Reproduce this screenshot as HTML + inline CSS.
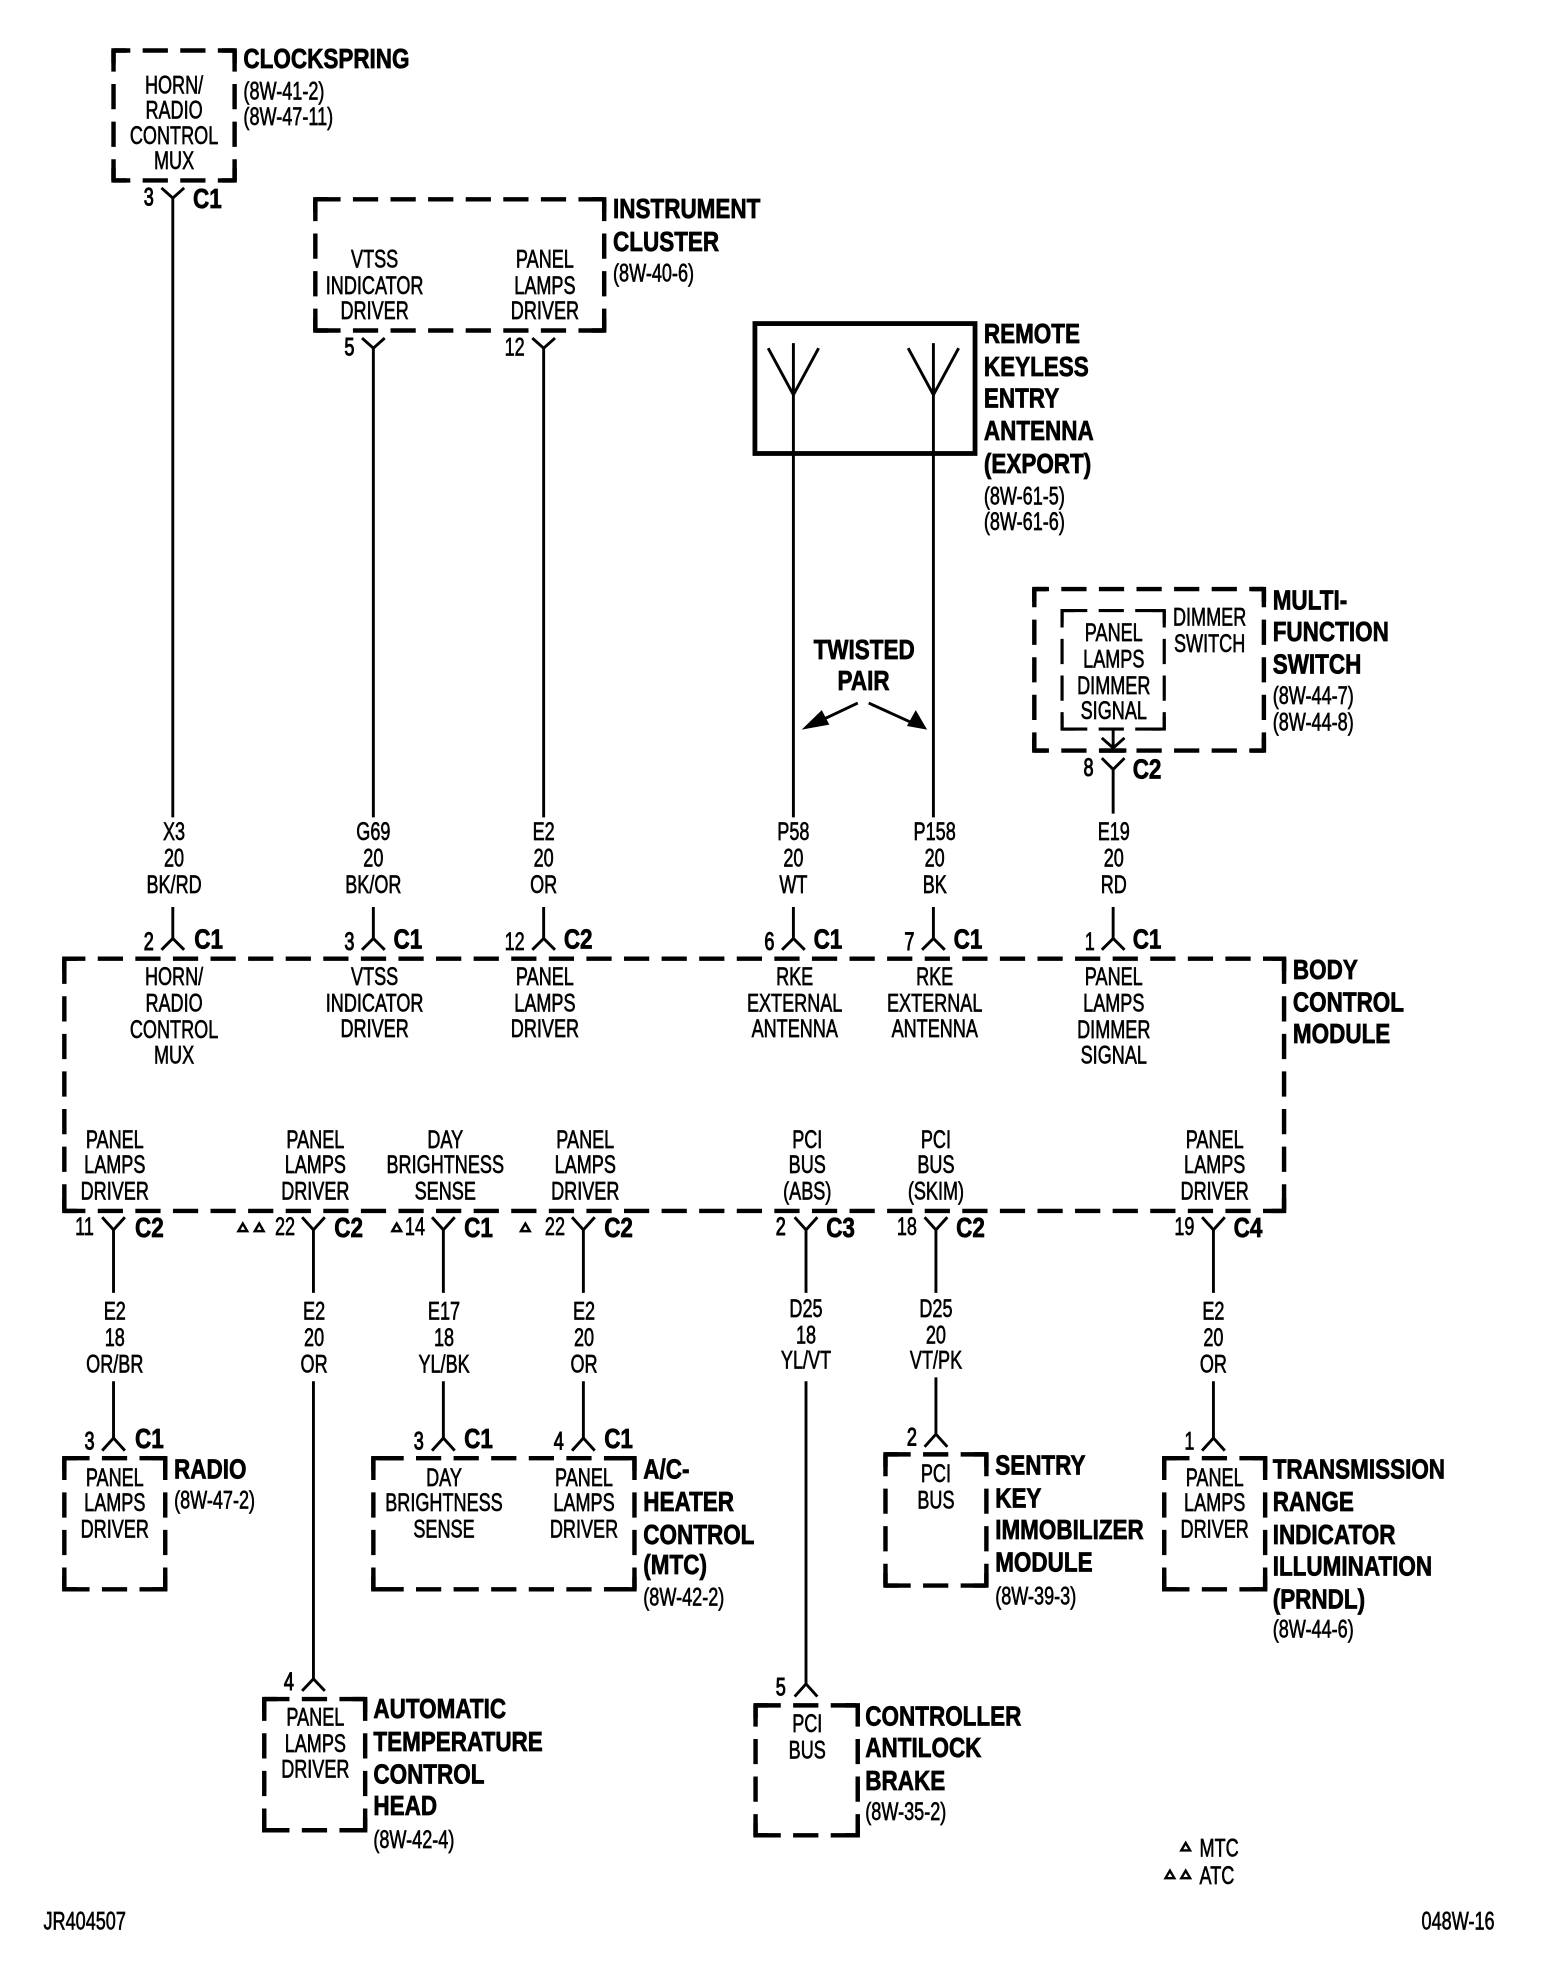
<!DOCTYPE html>
<html><head><meta charset="utf-8"><style>
html,body{margin:0;padding:0;background:#fff}
svg{display:block}
text{font-family:"Liberation Sans",Arial,sans-serif;fill:#000;stroke:#000;transform-box:fill-box}
.c,.l{font-size:19.5px;stroke-width:.5;transform:scaleX(.735)}
.c{text-anchor:middle;transform-origin:50% 50%}
.l{transform-origin:0 0}
.b{stroke-width:.8}
.t{font-size:22px;font-weight:bold;stroke-width:.6;transform:translateY(-1px) scaleX(.81);transform-origin:0 0}
.d{fill:none;stroke:#000;stroke-width:3.5;stroke-dasharray:20 9.8}
.s{fill:none;stroke:#000;stroke-width:3.5}
.w{fill:none;stroke:#000;stroke-width:2.3}
.m{fill:none;stroke:#000;stroke-width:1.9}
</style></head><body>
<svg width="1568" height="1978" viewBox="0 0 1243.1 1568.1" xmlns="http://www.w3.org/2000/svg">
<rect x="0" y="0" width="1244" height="1569" fill="#fff"/>

<!-- dashed boxes -->
<path class="d" style="stroke-dashoffset:6.7" d="M90 40H186M90 143H186"/>
<path class="d" style="stroke-dashoffset:3.2" d="M90 40V143M186 40V143"/>
<path class="s" d="M90 50V40H100M176 40H186V50M186 133V143H176M100 143H90V133"/>

<path class="d" d="M250 158H479M250 262H479"/>
<path class="d" style="stroke-dashoffset:2.7" d="M250 158V262M479 158V262"/>
<path class="s" d="M250 168V158H260M469 158H479V168M479 252V262H469M260 262H250V252"/>

<path class="d" style="stroke-dashoffset:8.4" d="M820 467H1002M820 595H1002"/>
<path class="d" style="stroke-dashoffset:5.6" d="M820 467V595M1002 467V595"/>
<path class="s" d="M820 477V467H830M992 467H1002V477M1002 585V595H992M830 595H820V585"/>

<path class="d" style="stroke-width:2.5;stroke-dasharray:20 9" d="M842 484H923M842 578H923"/>
<path class="d" style="stroke-width:2.5;stroke-dasharray:20 9;stroke-dashoffset:6.5" d="M842 484V578M923 484V578"/>
<path class="s" style="stroke-width:2.5" d="M842 494V484H852M913 484H923V494M923 568V578H913M852 578H842V568"/>

<path class="d" style="stroke-dashoffset:3.3" d="M51 760H1018M51 960H1018"/>
<path class="d" d="M51 760V960M1018 760V960"/>
<path class="s" d="M51 770V760H61M1008 760H1018V770M1018 950V960H1008M61 960H51V950"/>

<path class="d" d="M51 1156H131M51 1260H131"/>
<path class="d" style="stroke-dashoffset:2.7" d="M51 1156V1260M131 1156V1260"/>
<path class="s" d="M51 1166V1156H61M121 1156H131V1166M131 1250V1260H121M61 1260H51V1250"/>

<path class="d" d="M300 1156H499M300 1260H499"/>
<path class="d" style="stroke-dashoffset:2.7" d="M296 1156V1260M503 1156V1260"/>
<path class="s" d="M296 1166V1156H320M479 1156H503V1166M503 1250V1260H479M320 1260H296V1250"/>

<path class="d" d="M702 1153H782M702 1257H782"/>
<path class="d" style="stroke-dashoffset:2.7" d="M702 1153V1257M782 1153V1257"/>
<path class="s" d="M702 1163V1153H712M772 1153H782V1163M782 1247V1257H772M712 1257H702V1247"/>

<path class="d" d="M923 1156H1003M923 1260H1003"/>
<path class="d" style="stroke-dashoffset:2.7" d="M923 1156V1260M1003 1156V1260"/>
<path class="s" d="M923 1166V1156H933M993 1156H1003V1166M1003 1250V1260H993M933 1260H923V1250"/>

<path class="d" d="M209.500 1347H289.500M209.500 1451H289.500"/>
<path class="d" style="stroke-dashoffset:2.7" d="M209.500 1347V1451M289.500 1347V1451"/>
<path class="s" d="M209.500 1357V1347H219.500M279.500 1347H289.500V1357M289.500 1441V1451H279.500M219.500 1451H209.500V1441"/>

<path class="d" d="M599 1352H680M599 1455H680"/>
<path class="d" style="stroke-dashoffset:3.2" d="M599 1352V1455M680 1352V1455"/>
<path class="s" d="M599 1362V1352H609M670 1352H680V1362M680 1445V1455H670M609 1455H599V1445"/>

<!-- RKE box -->
<rect x="598.5" y="256.500" width="174.500" height="103" fill="none" stroke="#000" stroke-width="3.8"/>
<path class="w" d="M629 272V648M740 272V648M609 276L629 313L649 276M720 276L740 313L760 276"/>

<!-- top wires -->
<path class="w" d="M137 157V648M296 276V648M431 276V648M882.500 610V645"/>
<path class="w" d="M128 149L137 157L146 149M287 268L296 276L305 268M422 268L431 276L440 268M873.500 601L882.500 610L891.500 601"/>
<path class="w" d="M882.500 578V593M873.500 585L882.500 593L891.500 585"/>
<path class="s" d="M872 595H893"/>
<!-- BCM top connectors -->
<path class="w" d="M137 719V744M296 719V744M431 719V744M629 719V744M740 719V744M882.500 719V744"/>
<path class="w" d="M128 753L137 744L146 753M287 753L296 744L305 753M422 753L431 744L440 753M620 753L629 744L638 753M731 753L740 744L749 753M873.500 753L882.500 744L891.500 753"/>
<!-- BCM bottom connectors -->
<path class="w" d="M90 975V1025M248.500 975V1025M351.500 975V1025M462.500 975V1025M639 975V1025M742 975V1025M962 975V1025"/>
<path class="w" d="M81 965L90 975L99 965M239.500 965L248.500 975L257.500 965M342.500 965L351.500 975L360.500 965M453.500 965L462.500 975L471.500 965M630 965L639 975L648 965M733 965L742 975L751 965M953 965L962 975L971 965"/>
<!-- lower wires -->
<path class="w" d="M90 1095V1140M248.500 1095V1331M351.500 1095V1140M462.500 1095V1140M639 1095V1335M742 1092V1137M962 1095V1140"/>
<path class="w" d="M81 1150L90 1140L99 1150M239.500 1340.500L248.500 1331L257.500 1340.500M342.500 1150L351.500 1140L360.500 1150M453.500 1150L462.500 1140L471.500 1150M630 1345L639 1335L648 1345M733 1147L742 1137L751 1147M953 1150L962 1140L971 1150"/>

<!-- twisted pair arrows -->
<path class="w" d="M680 557.400L648 572.500M688.700 557.400L722 572.500"/>
<path d="M635.600 578.400L651.500 563L657.500 574.500ZM735 578.400L719 575.500L726 563Z" fill="#000"/>

<!-- triangles -->
<path class="m" d="M189 976L192.500 970L196 976ZM202 976L205.500 970L209 976ZM311 976L314.500 970L318 976ZM413 976L416.500 970L420 976ZM936.500 1467L940 1461L943.500 1467ZM924 1489L927.500 1483L931 1489ZM936.500 1489L940 1483L943.500 1489Z"/>

<!-- titles -->
<text class="t" x="193" y="55">CLOCKSPRING</text>
<text class="l" x="193" y="79">(8W-41-2)</text>
<text class="l" x="193" y="99">(8W-47-11)</text>
<text class="t" x="486" y="174">INSTRUMENT</text>
<text class="t" x="486" y="200">CLUSTER</text>
<text class="l" x="486" y="223">(8W-40-6)</text>
<text class="t" x="780" y="273">REMOTE</text>
<text class="t" x="780" y="299">KEYLESS</text>
<text class="t" x="780" y="324">ENTRY</text>
<text class="t" x="780" y="350">ANTENNA</text>
<text class="t" x="780" y="376">(EXPORT)</text>
<text class="l" x="780" y="400">(8W-61-5)</text>
<text class="l" x="780" y="420">(8W-61-6)</text>
<text class="t" x="1009" y="484">MULTI-</text>
<text class="t" x="1009" y="509">FUNCTION</text>
<text class="t" x="1009" y="535">SWITCH</text>
<text class="l" x="1009" y="558">(8W-44-7)</text>
<text class="l" x="1009" y="579">(8W-44-8)</text>
<text class="t" x="1025" y="777">BODY</text>
<text class="t" x="1025" y="803">CONTROL</text>
<text class="t" x="1025" y="828">MODULE</text>
<text class="t" x="138" y="1173">RADIO</text>
<text class="l" x="138" y="1196">(8W-47-2)</text>
<text class="t" x="510" y="1173">A/C-</text>
<text class="t" x="510" y="1199">HEATER</text>
<text class="t" x="510" y="1225">CONTROL</text>
<text class="t" x="510" y="1249">(MTC)</text>
<text class="l" x="510" y="1273">(8W-42-2)</text>
<text class="t" x="789" y="1170">SENTRY</text>
<text class="t" x="789" y="1196">KEY</text>
<text class="t" x="789" y="1221">IMMOBILIZER</text>
<text class="t" x="789" y="1247">MODULE</text>
<text class="l" x="789" y="1272">(8W-39-3)</text>
<text class="t" x="1009" y="1173">TRANSMISSION</text>
<text class="t" x="1009" y="1199">RANGE</text>
<text class="t" x="1009" y="1225">INDICATOR</text>
<text class="t" x="1009" y="1250">ILLUMINATION</text>
<text class="t" x="1009" y="1276">(PRNDL)</text>
<text class="l" x="1009" y="1298">(8W-44-6)</text>
<text class="t" x="296" y="1363">AUTOMATIC</text>
<text class="t" x="296" y="1389">TEMPERATURE</text>
<text class="t" x="296" y="1415">CONTROL</text>
<text class="t" x="296" y="1440">HEAD</text>
<text class="l" x="296" y="1465">(8W-42-4)</text>
<text class="t" x="686" y="1369">CONTROLLER</text>
<text class="t" x="686" y="1394">ANTILOCK</text>
<text class="t" x="686" y="1420">BRAKE</text>
<text class="l" x="686" y="1443">(8W-35-2)</text>
<text class="t" x="645" y="523.300">TWISTED</text>
<text class="t" x="664" y="548">PAIR</text>
<text class="l" x="951" y="1472">MTC</text>
<text class="l" x="951" y="1493.500">ATC</text>
<text class="l" x="34.500" y="1529.500">JR404507</text>
<text class="l" x="1127" y="1529.500">048W-16</text>

<!-- box labels -->
<text class="c" x="138" y="74">HORN/</text><text class="c" x="138" y="94">RADIO</text><text class="c" x="138" y="114">CONTROL</text><text class="c" x="138" y="134">MUX</text>
<text class="c" x="297" y="212">VTSS</text><text class="c" x="297" y="233">INDICATOR</text><text class="c" x="297" y="253">DRIVER</text>
<text class="c" x="432" y="212">PANEL</text><text class="c" x="432" y="233">LAMPS</text><text class="c" x="432" y="253">DRIVER</text>
<text class="c" x="883" y="508">PANEL</text><text class="c" x="883" y="529">LAMPS</text><text class="c" x="883" y="550">DIMMER</text><text class="c" x="883" y="570">SIGNAL</text>
<text class="c" x="959" y="496">DIMMER</text><text class="c" x="959" y="517">SWITCH</text>

<text class="c" x="138" y="781">HORN/</text><text class="c" x="138" y="802">RADIO</text><text class="c" x="138" y="823">CONTROL</text><text class="c" x="138" y="843">MUX</text>
<text class="c" x="297" y="781">VTSS</text><text class="c" x="297" y="802">INDICATOR</text><text class="c" x="297" y="822">DRIVER</text>
<text class="c" x="432" y="781">PANEL</text><text class="c" x="432" y="802">LAMPS</text><text class="c" x="432" y="822">DRIVER</text>
<text class="c" x="630" y="781">RKE</text><text class="c" x="630" y="802">EXTERNAL</text><text class="c" x="630" y="822">ANTENNA</text>
<text class="c" x="741" y="781">RKE</text><text class="c" x="741" y="802">EXTERNAL</text><text class="c" x="741" y="822">ANTENNA</text>
<text class="c" x="883" y="781">PANEL</text><text class="c" x="883" y="802">LAMPS</text><text class="c" x="883" y="823">DIMMER</text><text class="c" x="883" y="843">SIGNAL</text>

<text class="c" x="91" y="910">PANEL</text><text class="c" x="91" y="930">LAMPS</text><text class="c" x="91" y="951">DRIVER</text>
<text class="c" x="250" y="910">PANEL</text><text class="c" x="250" y="930">LAMPS</text><text class="c" x="250" y="951">DRIVER</text>
<text class="c" x="353" y="910">DAY</text><text class="c" x="353" y="930">BRIGHTNESS</text><text class="c" x="353" y="951">SENSE</text>
<text class="c" x="464" y="910">PANEL</text><text class="c" x="464" y="930">LAMPS</text><text class="c" x="464" y="951">DRIVER</text>
<text class="c" x="640" y="910">PCI</text><text class="c" x="640" y="930">BUS</text><text class="c" x="640" y="951">(ABS)</text>
<text class="c" x="742" y="910">PCI</text><text class="c" x="742" y="930">BUS</text><text class="c" x="742" y="951">(SKIM)</text>
<text class="c" x="963" y="910">PANEL</text><text class="c" x="963" y="930">LAMPS</text><text class="c" x="963" y="951">DRIVER</text>

<text class="c" x="91" y="1178">PANEL</text><text class="c" x="91" y="1198">LAMPS</text><text class="c" x="91" y="1219">DRIVER</text>
<text class="c" x="352" y="1178">DAY</text><text class="c" x="352" y="1198">BRIGHTNESS</text><text class="c" x="352" y="1219">SENSE</text>
<text class="c" x="463" y="1178">PANEL</text><text class="c" x="463" y="1198">LAMPS</text><text class="c" x="463" y="1219">DRIVER</text>
<text class="c" x="742" y="1175">PCI</text><text class="c" x="742" y="1196">BUS</text>
<text class="c" x="963" y="1178">PANEL</text><text class="c" x="963" y="1198">LAMPS</text><text class="c" x="963" y="1219">DRIVER</text>
<text class="c" x="250" y="1368">PANEL</text><text class="c" x="250" y="1389">LAMPS</text><text class="c" x="250" y="1409">DRIVER</text>
<text class="c" x="640" y="1373">PCI</text><text class="c" x="640" y="1394">BUS</text>

<!-- wire labels -->
<text class="c" x="138" y="666">X3</text><text class="c" x="138" y="687">20</text><text class="c" x="138" y="708">BK/RD</text>
<text class="c" x="296" y="666">G69</text><text class="c" x="296" y="687">20</text><text class="c" x="296" y="708">BK/OR</text>
<text class="c" x="431" y="666">E2</text><text class="c" x="431" y="687">20</text><text class="c" x="431" y="708">OR</text>
<text class="c" x="629" y="666">P58</text><text class="c" x="629" y="687">20</text><text class="c" x="629" y="708">WT</text>
<text class="c" x="741" y="666">P158</text><text class="c" x="741" y="687">20</text><text class="c" x="741" y="708">BK</text>
<text class="c" x="883" y="666">E19</text><text class="c" x="883" y="687">20</text><text class="c" x="883" y="708">RD</text>
<text class="c" x="91" y="1046">E2</text><text class="c" x="91" y="1067">18</text><text class="c" x="91" y="1088">OR/BR</text>
<text class="c" x="249" y="1046">E2</text><text class="c" x="249" y="1067">20</text><text class="c" x="249" y="1088">OR</text>
<text class="c" x="352" y="1046">E17</text><text class="c" x="352" y="1067">18</text><text class="c" x="352" y="1088">YL/BK</text>
<text class="c" x="463" y="1046">E2</text><text class="c" x="463" y="1067">20</text><text class="c" x="463" y="1088">OR</text>
<text class="c" x="639" y="1044">D25</text><text class="c" x="639" y="1065">18</text><text class="c" x="639" y="1085">YL/VT</text>
<text class="c" x="742" y="1044">D25</text><text class="c" x="742" y="1065">20</text><text class="c" x="742" y="1085">VT/PK</text>
<text class="c" x="962" y="1046">E2</text><text class="c" x="962" y="1067">20</text><text class="c" x="962" y="1088">OR</text>

<!-- pin numbers -->
<text class="c b" x="118" y="163">3</text>
<text class="c b" x="277" y="282">5</text><text class="c" x="408" y="282">12</text>
<text class="c b" x="863" y="615">8</text>
<text class="c b" x="118" y="753">2</text><text class="c b" x="277" y="753">3</text><text class="c" x="408" y="753">12</text><text class="c b" x="610" y="753">6</text><text class="c b" x="721" y="753">7</text><text class="c" x="864" y="753">1</text>
<text class="c" x="67" y="979">11</text><text class="c" x="226" y="979">22</text><text class="c" x="329" y="979">14</text><text class="c" x="440" y="979">22</text><text class="c b" x="619" y="979">2</text><text class="c" x="719" y="979">18</text><text class="c" x="939" y="979">19</text>
<text class="c b" x="71" y="1149">3</text><text class="c b" x="332" y="1149">3</text><text class="c b" x="443" y="1149">4</text><text class="c b" x="723" y="1146">2</text><text class="c" x="943" y="1149">1</text><text class="c b" x="229" y="1340">4</text><text class="c b" x="619" y="1344">5</text>

<!-- connector names -->
<text class="t" x="153" y="166">C1</text>
<text class="t" x="898" y="618">C2</text>
<text class="t" x="154" y="753">C1</text><text class="t" x="312" y="753">C1</text><text class="t" x="447" y="753">C2</text><text class="t" x="645" y="753">C1</text><text class="t" x="756" y="753">C1</text><text class="t" x="898" y="753">C1</text>
<text class="t" x="107" y="981.500">C2</text><text class="t" x="265" y="981.500">C2</text><text class="t" x="368" y="981.500">C1</text><text class="t" x="479" y="981.500">C2</text><text class="t" x="655" y="981.500">C3</text><text class="t" x="758" y="981.500">C2</text><text class="t" x="978" y="981.500">C4</text>
<text class="t" x="107" y="1149">C1</text><text class="t" x="368" y="1149">C1</text><text class="t" x="479" y="1149">C1</text>
</svg>
</body></html>
